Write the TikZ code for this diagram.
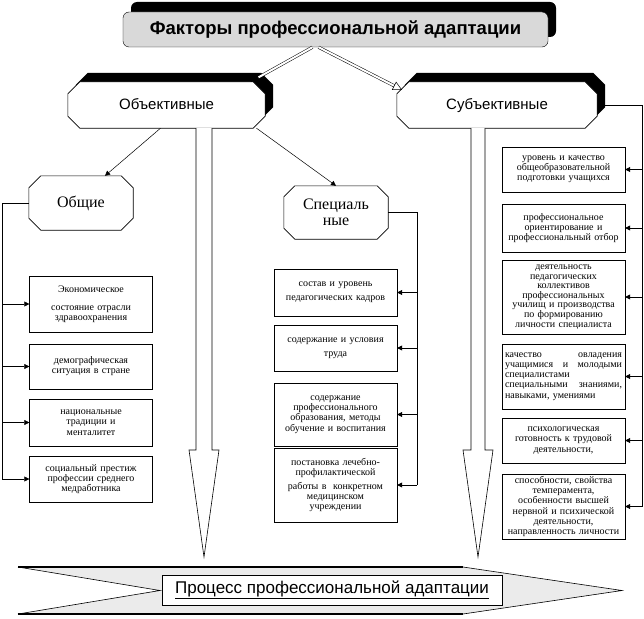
\documentclass[tikz,border=0pt]{standalone}
\usepackage{fontspec}
\setmainfont{Liberation Serif}
\newfontfamily\arialfont{Liberation Sans}
\usetikzlibrary{arrows.meta,positioning,calc,shadows,backgrounds}
\definecolor{titlegray}{HTML}{D9D9D9}
\definecolor{bandgray}{HTML}{EBEBEB}
% octagon round a named node, chamfer #2
\newcommand{\octpath}[2]{($(#1.north west)+(#2,0)$) -- ($(#1.north east)+(-#2,0)$) -- ($(#1.north east)+(0,#2)$) -- ($(#1.south east)+(0,-#2)$) -- ($(#1.south east)+(-#2,0)$) -- ($(#1.south west)+(#2,0)$) -- ($(#1.south west)+(0,-#2)$) -- ($(#1.north west)+(0,#2)$) -- cycle}
\tikzset{
  titlebox/.style={draw=black, rounded corners=6pt, fill=titlegray, align=center, inner sep=0pt, font=\arialfont\bfseries\fontsize{18.5}{20}\selectfont, drop shadow={shadow xshift=8pt, shadow yshift=10pt, fill=black, opacity=1}},
  groupbox/.style={align=center, inner sep=0pt, text height=11pt, text depth=3pt, font=\arialfont\fontsize{15}{17}\selectfont},
  kindbox/.style={align=center, inner sep=0pt, font=\fontsize{16}{16}\selectfont},
  octbox/.style={draw=black, fill=white, line width=0.6pt},
  octshadow/.style={fill=black, transform canvas={xshift=8pt, yshift=9pt}},
  factor/.style={draw=black, fill=white, align=center, text width=117pt, minimum width=123pt, inner sep=2pt, font=\fontsize{10}{10.2}\selectfont},
  processbox/.style={draw=black, fill=white, inner sep=0pt, font=\arialfont\fontsize{17}{18}\selectfont},
  arrow/.style={-{Triangle[length=5pt, width=5pt]}, line width=0.5pt},
  hollowarrow/.style={double, double distance=2pt, line width=0.5pt, -{Triangle[open, length=9pt, width=9pt]}},
  bus/.style={line width=0.5pt},
  flowarrow/.style={draw=black, fill=white, line width=0.6pt}
}
\begin{document}
\begin{tikzpicture}[x=1pt, y=-1pt]
  \useasboundingbox (0,0) rectangle (644,618);

  % flow arrows into the process
  \draw[flowarrow] (196,128) -- (196,450) -- (189,450) -- (204,557) -- (219,450) -- (212,450) -- (212,128);
  \draw[flowarrow] (471,128) -- (471,450) -- (463,450) -- (478,557) -- (493,450) -- (485,450) -- (485,128);

  \node[titlebox, minimum width=425pt, minimum height=35pt] (title) at (335.5,29.5) {Факторы профессиональной адаптации};
  \node[groupbox, minimum width=197pt, minimum height=46pt] (obj) at (166.5,105) {Объективные};
  \node[groupbox, minimum width=200pt, minimum height=46pt] (subj) at (497,105) {Субъективные};
  \node[kindbox, minimum width=104pt, minimum height=54pt] (gen) at (81,203) {Общие};
  \node[kindbox, minimum width=104pt, minimum height=53pt] (spec) at (336,212.5) {Специаль\\ные};

  \begin{scope}[on background layer]
    \fill[octshadow] \octpath{obj}{12};
    \fill[octshadow] \octpath{subj}{12};
    \path[octbox] \octpath{obj}{12};
    \path[octbox] \octpath{subj}{12};
    \path[octbox] \octpath{gen}{12};
    \path[octbox] \octpath{spec}{11};
  \end{scope}

  % general factors
  \node[factor, minimum height=56pt] (e1) at (91,304) {Экономическое\\[8pt]состояние отрасли\\здравоохранения};
  \node[factor, minimum height=45pt] (e2) at (91,366.5) {демографическая\\ситуация в стране\\[10pt]};
  \node[factor, minimum height=47pt] (e3) at (91,422.5) {национальные\\традиции и\\менталитет};
  \node[factor, minimum height=46pt] (e4) at (91,479) {социальный престиж\\профессии среднего\\медработника};

  % special factors
  \node[factor, minimum height=47pt] (s1) at (335.5,292.5) {состав и уровень\\[4pt]педагогических кадров};
  \node[factor, minimum height=46pt] (s2) at (335.5,348) {содержание и условия\\[4pt]труда};
  \node[factor, minimum height=63pt] (s3) at (335.5,414.5) {содержание\\профессионального\\образования, методы\\обучение и воспитания};
  \node[factor, minimum height=74pt] (s4) at (335.5,485) {постановка лечебно-\\профилактической\\[4pt]работы в \ конкретном\\медицинском\\учреждении\\[8pt]};

  % subjective factors
  \node[factor, minimum height=45pt] (r1) at (563.5,169.5) {уровень и качество\\общеобразовательной\\подготовки учащихся};
  \node[factor, minimum height=48pt] (r2) at (563.5,228) {профессиональное\\ориентирование и\\профессиональный отбор};
  \node[factor, minimum height=74pt, font=\fontsize{10}{9.6}\selectfont] (r3) at (563.5,297) {деятельность\\педагогических\\коллективов\\профессиональных\\училищ и производства\\по формированию\\личности специалиста};
  \node[factor, minimum height=65pt, align=left] (r4) at (563.5,376.5) {качество\hfill овладения\\учащимися\hfill и\hfill молодыми\\специалистами\\специальными\hfill знаниями,\\навыками, умениями};
  \node[factor, minimum height=45pt] (r5) at (563.5,440.5) {психологическая\\готовность к трудовой\\деятельности,};
  \node[factor, minimum height=65pt] (r6) at (563.5,506.5) {способности, свойства\\темперамента,\\особенности высшей\\нервной и психической\\деятельности,\\направленность личности};

  % process band
  \fill[bandgray] (18,567) -- (463,567) -- (622,590.5) -- (463,614) -- (18,614) -- (160,590.5) -- cycle;
  \draw[line width=0.6pt] (463,567) -- (622,590.5) -- (463,614) (18,567) -- (160,590.5) -- (18,614);
  \draw[line width=2.5pt] (18,567) -- (463,567) (18,614) -- (463,614);
  \node[processbox, minimum width=340pt, minimum height=30pt] (process) at (332,590) {\underline{Процесс профессиональной адаптации}};

  \draw[hollowarrow] ([xshift=-23pt]title.south) -- ([xshift=84pt]obj.north);
  \draw[hollowarrow] ([xshift=-17pt]title.south) -- ([xshift=-95pt, yshift=-8pt]subj.north);
  \draw[arrow] ([xshift=-6pt]obj.south) -- ([xshift=24pt]gen.north);
  \draw[arrow] ([xshift=90pt]obj.south) -- (spec.north);

  \coordinate (lbus) at (2,0);
  \coordinate (mbus) at (417,0);
  \coordinate (rbus) at (642,0);
  \draw[bus] (gen.west) -| (lbus |- e4.west);
  \draw[bus] (spec.east) -| (mbus |- s4.east);
  \draw[bus] ([xshift=8pt]subj.east) -| (rbus |- r6.east);
  \foreach \b in {e1,e2,e3,e4}
    \draw[arrow] (lbus |- \b.west) -- (\b.west);
  \foreach \b in {s1,s2,s3,s4}
    \draw[arrow] (mbus |- \b.east) -- (\b.east);
  \foreach \b in {r1,r2,r3,r4,r5,r6}
    \draw[arrow] (rbus |- \b.east) -- (\b.east);
\end{tikzpicture}
\end{document}
